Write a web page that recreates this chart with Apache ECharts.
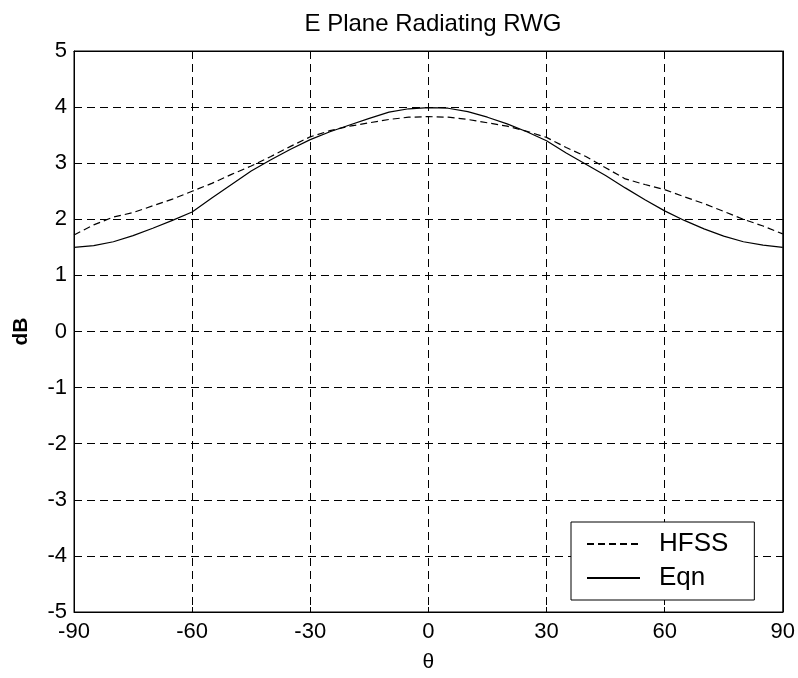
<!DOCTYPE html>
<html>
<head>
<meta charset="utf-8">
<script src="https://cdn.jsdelivr.net/npm/echarts@6/dist/echarts.min.js"></script>
<style>
  html, body { margin: 0; padding: 0; background: #fff; }
  #chart { width: 798px; height: 678px; }
</style>
</head>
<body>
<div id="chart"></div>
<script>
// theta (deg)
var theta = [-90, -85, -80, -75, -70, -65, -60, -55, -50, -45, -40, -35, -30, -25, -20, -15, -10, -5,
  0, 5, 10, 15, 20, 25, 30, 35, 40, 45, 50, 55, 60, 65, 70, 75, 80, 85, 90];
// HFSS 仿真
var hfss = [1.72, 1.90, 2.04, 2.12, 2.24, 2.36, 2.50, 2.64, 2.80, 2.95, 3.12, 3.30, 3.47, 3.58, 3.66, 3.72, 3.78, 3.82,
  3.83, 3.82, 3.78, 3.72, 3.66, 3.57, 3.46, 3.28, 3.12, 2.92, 2.72, 2.62, 2.53, 2.40, 2.28, 2.14, 2.00, 1.88, 1.74];
// Eqn 公式
var eqn = [1.50, 1.53, 1.60, 1.71, 1.84, 1.98, 2.13, 2.38, 2.62, 2.86, 3.06, 3.25, 3.42, 3.56, 3.68, 3.80, 3.91, 3.97,
  3.99, 3.98, 3.92, 3.82, 3.70, 3.56, 3.40, 3.18, 2.98, 2.78, 2.56, 2.35, 2.15, 1.98, 1.83, 1.70, 1.60, 1.54, 1.50];
var xTicks = [-90, -60, -30, 0, 30, 60, 90];
var yTicks = [-5, -4, -3, -2, -1, 0, 1, 2, 3, 4, 5];

var font = '"Liberation Sans", Arial, sans-serif';
var pairs = function (ys) {
  return theta.map(function (t, i) { return [t, ys[i]]; });
};
var frameAxis = { show: true, onZero: false, lineStyle: { color: '#000' } };
var frameTick = { show: true, inside: true, length: 5, lineStyle: { color: '#000' } };
var gridDash = { show: true, lineStyle: { color: '#000', type: [8, 5], width: 1 } };

var myChart = echarts.init(document.getElementById('chart'));
var option = {
  backgroundColor: '#fff',
  animation: false,
  title: {
    text: 'E Plane Radiating RWG',
    left: 428,
    textAlign: 'center',
    top: 7,
    textStyle: { color: '#000', fontFamily: font, fontSize: 24, fontWeight: 'normal' }
  },
  legend: {
    orient: 'vertical',
    left: 571,
    top: 522,
    padding: [9, 26, 9, 15],
    itemGap: 8,
    itemWidth: 53,
    itemHeight: 14,
    selectedMode: false,
    backgroundColor: '#fff',
    borderColor: '#000',
    borderWidth: 1,
    itemStyle: { opacity: 0 },
    textStyle: { color: '#000', fontFamily: font, fontSize: 26, padding: [0, 0, 0, 14] },
    data: ['HFSS', 'Eqn']
  },
  grid: {
    left: 74, right: 12, top: 51, bottom: 61,
    show: true, borderColor: '#000', borderWidth: 1
  },
  xAxis: [{
    type: 'value', min: -90, max: 90, interval: 30,
    name: 'θ', nameLocation: 'middle', nameGap: 40,
    nameTextStyle: { color: '#000', fontFamily: font, fontSize: 21 },
    axisLine: frameAxis,
    axisTick: frameTick,
    axisLabel: { color: '#000', fontFamily: font, fontSize: 22, margin: 9,
      formatter: function (v) { return xTicks.indexOf(v) >= 0 ? String(v) : ''; } },
    splitLine: gridDash
  }, {
    type: 'value', min: -90, max: 90, interval: 30, position: 'top',
    axisLine: frameAxis,
    axisTick: frameTick,
    axisLabel: { show: false },
    splitLine: { show: false }
  }],
  yAxis: [{
    type: 'value', min: -5, max: 5, interval: 1,
    name: 'dB', nameLocation: 'middle', nameGap: 42, nameRotate: 90,
    nameTextStyle: { color: '#000', fontFamily: font, fontSize: 21, fontWeight: 'bold' },
    axisLine: frameAxis,
    axisTick: frameTick,
    axisLabel: { color: '#000', fontFamily: font, fontSize: 22, margin: 7,
      formatter: function (v) { return yTicks.indexOf(v) >= 0 ? String(v) : ''; } },
    splitLine: gridDash
  }, {
    type: 'value', min: -5, max: 5, interval: 1, position: 'right',
    axisLine: frameAxis,
    axisTick: frameTick,
    axisLabel: { show: false },
    splitLine: { show: false }
  }],
  series: [{
    name: 'HFSS',
    type: 'line',
    symbol: 'none',
    data: pairs(hfss),
    lineStyle: { color: '#000', width: 1.2, type: [7, 4] },
    itemStyle: { color: '#000' }
  }, {
    name: 'Eqn',
    type: 'line',
    symbol: 'none',
    data: pairs(eqn),
    lineStyle: { color: '#000', width: 1.2, type: 'solid' },
    itemStyle: { color: '#000' }
  }]
};
myChart.setOption(option);
</script>
</body>
</html>
